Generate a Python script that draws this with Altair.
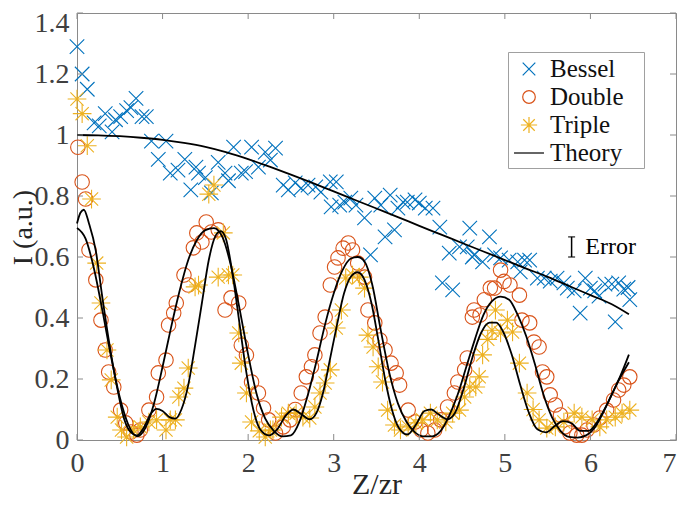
import altair as alt
import pandas as pd

# ---------------- data ----------------
bessel_x = [0.00, 0.06, 0.12, 0.20, 0.26, 0.33, 0.41, 0.45, 0.51, 0.58, 0.63, 0.69, 0.76, 0.81,
            0.87, 0.95, 1.04, 1.09, 1.18, 1.26, 1.33, 1.39, 1.42, 1.50, 1.57, 1.65, 1.73, 1.77,
            1.83, 1.92, 1.97, 2.04, 2.12, 2.20, 2.26, 2.32, 2.41, 2.47, 2.55, 2.62, 2.70, 2.79,
            2.85, 2.96, 2.97, 3.03, 3.07, 3.13, 3.20, 3.26, 3.36, 3.43, 3.48, 3.55, 3.60, 3.66,
            3.71, 3.75, 3.81, 3.86, 3.95, 4.00, 4.07, 4.16, 4.24, 4.27, 4.35, 4.39, 4.47, 4.56,
            4.59, 4.62, 4.64, 4.74, 4.82, 4.88, 4.95, 5.05, 5.15, 5.18, 5.23, 5.29, 5.38, 5.46,
            5.53, 5.61, 5.69, 5.73, 5.81, 5.88, 5.94, 6.00, 6.05, 6.10, 6.17, 6.25, 6.29, 6.33,
            6.39, 6.44, 6.46]
bessel_y = [1.29, 1.20, 1.15, 1.04, 1.03, 1.07, 1.01, 1.05, 1.06, 1.08, 1.09, 1.12, 1.06, 1.06,
            0.98, 0.92, 0.98, 0.875, 0.885, 0.92, 0.82, 0.895, 0.875, 0.86, 0.81, 0.91, 0.875, 0.85,
            0.96, 0.875, 0.88, 0.96, 0.895, 0.944, 0.918, 0.957, 0.836, 0.82, 0.843, 0.826, 0.836, 0.83,
            0.813, 0.846, 0.764, 0.846, 0.77, 0.78, 0.793, 0.77, 0.728, 0.607, 0.793, 0.77, 0.666, 0.803,
            0.689, 0.76, 0.78, 0.78, 0.787, 0.777, 0.76, 0.76, 0.698, 0.515, 0.613, 0.492, 0.633, 0.633,
            0.695, 0.60, 0.607, 0.584, 0.666, 0.607, 0.597, 0.590, 0.584, 0.551, 0.590, 0.590, 0.531, 0.531,
            0.521, 0.531, 0.515, 0.498, 0.489, 0.416, 0.531, 0.498, 0.489, 0.472, 0.511, 0.511, 0.387, 0.515,
            0.495, 0.50, 0.46]

double_x = [0.01, 0.06, 0.10, 0.14, 0.22, 0.28, 0.33, 0.37, 0.43, 0.51, 0.57, 0.63, 0.70, 0.74,
            0.84, 0.93, 0.95, 1.04, 1.07, 1.13, 1.16, 1.25, 1.30, 1.36, 1.40, 1.46, 1.51, 1.57,
            1.65, 1.73, 1.80, 1.89, 1.92, 1.98, 2.04, 2.12, 2.18, 2.24, 2.32, 2.41, 2.49, 2.55,
            2.62, 2.68, 2.74, 2.78, 2.84, 2.90, 2.96, 3.01, 3.05, 3.11, 3.17, 3.22, 3.28, 3.36,
            3.40, 3.48, 3.54, 3.60, 3.67, 3.73, 3.77, 3.87, 3.95, 4.02, 4.10, 4.18, 4.25, 4.33,
            4.41, 4.45, 4.53, 4.56, 4.62, 4.64, 4.71, 4.76, 4.83, 4.88, 4.95, 4.99, 5.06, 5.17,
            5.20, 5.29, 5.34, 5.40, 5.44, 5.49, 5.53, 5.59, 5.65, 5.70, 5.76, 5.84, 5.90, 5.96,
            6.04, 6.11, 6.19, 6.27, 6.33, 6.39, 6.46]
double_y = [0.96, 0.846, 0.79, 0.623, 0.525, 0.393, 0.295, 0.223, 0.174, 0.098, 0.056, 0.026, 0.016, 0.033,
            0.098, 0.141, 0.22, 0.262, 0.377, 0.416, 0.449, 0.541, 0.508, 0.63, 0.679, 0.649, 0.715, 0.682,
            0.689, 0.426, 0.466, 0.449, 0.311, 0.279, 0.19, 0.154, 0.105, 0.066, 0.023, 0.043, 0.066, 0.10,
            0.154, 0.207, 0.24, 0.279, 0.351, 0.403, 0.508, 0.567, 0.597, 0.629, 0.646, 0.623, 0.58, 0.534,
            0.426, 0.384, 0.328, 0.295, 0.252, 0.22, 0.18, 0.098, 0.059, 0.033, 0.023, 0.033, 0.066, 0.108,
            0.154, 0.19, 0.23, 0.269, 0.403, 0.426, 0.41, 0.46, 0.498, 0.498, 0.557, 0.52, 0.508, 0.475,
            0.393, 0.384, 0.321, 0.305, 0.223, 0.207, 0.148, 0.115, 0.082, 0.043, 0.023, 0.016, 0.016, 0.033,
            0.049, 0.072, 0.098, 0.131, 0.164, 0.18, 0.207]

triple_x = [0.00, 0.06, 0.12, 0.17, 0.23, 0.28, 0.35, 0.40, 0.47, 0.52, 0.58, 0.66, 0.74, 0.84,
            0.93, 1.04, 1.09, 1.15, 1.19, 1.25, 1.30, 1.38, 1.42, 1.54, 1.60, 1.65, 1.71, 1.77,
            1.82, 1.89, 1.92, 1.98, 2.04, 2.13, 2.20, 2.26, 2.29, 2.39, 2.47, 2.56, 2.64, 2.72,
            2.78, 2.84, 2.90, 2.96, 3.03, 3.09, 3.14, 3.22, 3.30, 3.36, 3.40, 3.46, 3.52, 3.57,
            3.63, 3.71, 3.78, 3.87, 3.96, 4.04, 4.13, 4.21, 4.31, 4.39, 4.47, 4.53, 4.59, 4.66,
            4.70, 4.74, 4.80, 4.85, 4.89, 4.95, 5.03, 5.09, 5.17, 5.26, 5.33, 5.40, 5.49, 5.59,
            5.69, 5.81, 5.90, 6.02, 6.11, 6.19, 6.29, 6.37, 6.46]
triple_y = [1.118, 1.07, 0.965, 0.79, 0.58, 0.449, 0.295, 0.197, 0.075, 0.033, 0.01, 0.033, 0.043, 0.059,
            0.066, 0.033, 0.066, 0.066, 0.141, 0.17, 0.236, 0.502, 0.508, 0.806, 0.836, 0.534, 0.679, 0.541,
            0.541, 0.351, 0.252, 0.154, 0.059, 0.03, 0.01, 0.033, 0.033, 0.075, 0.088, 0.088, 0.075, 0.072,
            0.108, 0.154, 0.187, 0.23, 0.367, 0.426, 0.531, 0.541, 0.534, 0.498, 0.344, 0.305, 0.24, 0.19,
            0.098, 0.049, 0.033, 0.043, 0.056, 0.066, 0.088, 0.066, 0.059, 0.088, 0.098, 0.141, 0.174, 0.174,
            0.207, 0.279, 0.33, 0.36, 0.426, 0.351, 0.393, 0.354, 0.252, 0.154, 0.10, 0.066, 0.039, 0.043,
            0.059, 0.088, 0.075, 0.066, 0.043, 0.066, 0.075, 0.088, 0.098]

theory_bessel_x = [0, 0.25, 0.5, 0.75, 1, 1.25, 1.5, 1.75, 2, 2.25, 2.5, 2.75, 3, 3.25, 3.5,
                   3.75, 4, 4.25, 4.5, 4.75, 5, 5.25, 5.5, 5.75, 6, 6.25, 6.45]
theory_bessel_y = [1.0, 0.999, 0.996, 0.991, 0.984, 0.974, 0.961, 0.943, 0.921, 0.896, 0.870, 0.843,
                   0.815, 0.787, 0.759, 0.731, 0.702, 0.674, 0.646, 0.618, 0.590, 0.562, 0.535, 0.505,
                   0.475, 0.445, 0.412]

theory_double_x = [0, 0.1, 0.2, 0.3, 0.4, 0.5, 0.6, 0.7, 0.8, 0.9, 1.0, 1.1, 1.2, 1.3, 1.4, 1.5, 1.6,
                   1.7, 1.8, 1.9, 2.0, 2.1, 2.2, 2.3, 2.4, 2.5, 2.6, 2.7, 2.8, 2.9, 3.0, 3.1, 3.2, 3.28,
                   3.36, 3.45, 3.55, 3.65, 3.75, 3.85, 3.95, 4.05, 4.15, 4.25, 4.35, 4.45, 4.55, 4.65,
                   4.75, 4.85, 4.95, 5.05, 5.15, 5.25, 5.35, 5.45, 5.55, 5.65, 5.75, 5.85, 5.95, 6.05,
                   6.15, 6.25, 6.35, 6.45]
theory_double_y = [0.695, 0.66, 0.56, 0.42, 0.27, 0.14, 0.05, 0.012, 0.04, 0.12, 0.24, 0.37, 0.49, 0.59,
                   0.655, 0.688, 0.695, 0.665, 0.57, 0.43, 0.28, 0.15, 0.07, 0.03, 0.012, 0.015, 0.06,
                   0.15, 0.26, 0.38, 0.48, 0.555, 0.595, 0.60, 0.585, 0.51, 0.36, 0.22, 0.12, 0.06, 0.025,
                   0.012, 0.012, 0.03, 0.08, 0.15, 0.24, 0.33, 0.41, 0.455, 0.47, 0.46, 0.41, 0.34, 0.25,
                   0.15, 0.075, 0.03, 0.01, 0.008, 0.015, 0.04, 0.09, 0.15, 0.21, 0.28]

theory_triple_x = [0, 0.04, 0.08, 0.14, 0.22, 0.29, 0.37, 0.47, 0.55, 0.63, 0.7, 0.78, 0.86, 0.93, 1.0,
                   1.08, 1.15, 1.22, 1.3, 1.38, 1.46, 1.54, 1.62, 1.68, 1.74, 1.82, 1.9, 1.98, 2.06,
                   2.14, 2.24, 2.34, 2.44, 2.53, 2.62, 2.72, 2.8, 2.88, 2.96, 3.04, 3.12, 3.2, 3.28,
                   3.36, 3.44, 3.52, 3.6, 3.68, 3.76, 3.86, 3.96, 4.06, 4.14, 4.22, 4.33, 4.42, 4.52,
                   4.62, 4.72, 4.82, 4.9, 4.98, 5.08, 5.18, 5.28, 5.38, 5.48, 5.58, 5.68, 5.78, 5.88,
                   5.98, 6.08, 6.2, 6.32, 6.45]
theory_triple_y = [0.71, 0.745, 0.755, 0.71, 0.62, 0.48, 0.33, 0.17, 0.07, 0.025, 0.015, 0.04, 0.085,
                   0.102, 0.095, 0.075, 0.07, 0.1, 0.18, 0.31, 0.45, 0.59, 0.67, 0.685, 0.66, 0.54, 0.38,
                   0.22, 0.1, 0.035, 0.015, 0.035, 0.08, 0.1, 0.085, 0.068, 0.09, 0.16, 0.27, 0.38, 0.48,
                   0.535, 0.55, 0.525, 0.45, 0.33, 0.2, 0.1, 0.04, 0.018, 0.05, 0.095, 0.1, 0.085, 0.068,
                   0.09, 0.17, 0.27, 0.35, 0.385, 0.385, 0.355, 0.28, 0.18, 0.09, 0.035, 0.025, 0.045,
                   0.062, 0.055, 0.03, 0.03, 0.06, 0.12, 0.19, 0.255]

error_x = [5.78]
error_lo = [0.600]
error_hi = [0.666]
error_label = ["Error"]
error_label_x = [5.94]
error_label_y = [0.633]

series_names = ["Bessel", "Double", "Triple", "Theory"]
x_ticks = [0, 1, 2, 3, 4, 5, 6, 7]
y_ticks = [0, 0.2, 0.4, 0.6, 0.8, 1.0, 1.2, 1.4]

# ---------------- styling ----------------
W, H = 599, 427
colors = ["#0072BD", "#D95319", "#EDB120", "#000000"]
x_path = "M-0.45,-0.45L0.45,0.45M-0.45,0.45L0.45,-0.45"
o_path = "M0.45,0A0.45,0.45,0,1,1,-0.45,0A0.45,0.45,0,1,1,0.45,0Z"
star_path = ("M-0.58,0L0.58,0M0,-0.58L0,0.58M-0.41,-0.41L0.41,0.41M-0.41,0.41L0.41,-0.41")
line_path = "M-1.07,0L1.07,0"
shapes = [x_path, o_path, star_path, line_path]
serif = "Liberation Serif"
box_col = "#8a8a8a"

pts = pd.concat([
    pd.DataFrame({"x": bessel_x, "y": bessel_y, "series": "Bessel"}),
    pd.DataFrame({"x": double_x, "y": double_y, "series": "Double"}),
    pd.DataFrame({"x": triple_x, "y": triple_y, "series": "Triple"}),
], ignore_index=True)

theory = pd.concat([
    pd.DataFrame({"x": theory_bessel_x, "y": theory_bessel_y, "curve": "tb"}),
    pd.DataFrame({"x": theory_double_x, "y": theory_double_y, "curve": "td"}),
    pd.DataFrame({"x": theory_triple_x, "y": theory_triple_y, "curve": "tt"}),
], ignore_index=True)
theory["series"] = "Theory"

xs = alt.Scale(domain=[0, 7], nice=False, zero=False)
ys = alt.Scale(domain=[0, 1.4], nice=False, zero=False)
color_scale = alt.Scale(domain=series_names, range=colors)
shape_scale = alt.Scale(domain=series_names, range=shapes)

legend = alt.Legend(
    title=None, orient="none", legendX=431, legendY=39,
    labelFont=serif, labelFontSize=25, labelColor="#111111", labelOffset=6,
    labelExpr="datum.label + '\u2800'",
    symbolSize=784, symbolStrokeWidth=1.2, symbolFillColor="transparent", symbolOffset=4,
    strokeColor="#a0a0a0", fillColor="#ffffff", padding=2, rowPadding=0,
)

x_axis = alt.Axis(title="Z/zr", values=x_ticks, labelPadding=9, titleY=53, labelFlush=False,
                  titleBaseline="alphabetic", labelExpr="format(datum.value, '~g')",
                  labelAlign={"condition": {"test": "datum.value > 6.5", "value": "right"},
                              "value": "center"})
y_axis = alt.Axis(title="I (a.u.)", values=y_ticks, labelPadding=8, titleX=-54, titleY=214,
                  titleAngle=270, titleAlign="center", titleBaseline="middle", labelFlush=False,
                  titleFontSize=28,
                  labelOffset={"condition": {"test": "datum.value > 1.3", "value": 10}, "value": 0},
                  labelExpr="format(datum.value, '~g')")

points = alt.Chart(pts).mark_point(filled=False, size=1037, strokeWidth=1.1, opacity=1).encode(
    x=alt.X("x:Q", scale=xs, axis=x_axis),
    y=alt.Y("y:Q", scale=ys, axis=y_axis),
    color=alt.Color("series:N", scale=color_scale, legend=legend),
    shape=alt.Shape("series:N", scale=shape_scale, legend=legend),
)

lines = alt.Chart(theory).mark_line(strokeWidth=1.8, interpolate="monotone").encode(
    x=alt.X("x:Q", scale=xs, axis=x_axis),
    y=alt.Y("y:Q", scale=ys, axis=y_axis),
    color=alt.Color("series:N", scale=color_scale, legend=legend),
    detail="curve:N",
)

# inward tick marks (MATLAB style box)
xt = pd.DataFrame({"t": x_ticks})
yt = pd.DataFrame({"t": y_ticks})
tick_mark = dict(color=box_col, strokeWidth=1)
xt_bot = alt.Chart(xt).mark_rule(**tick_mark).encode(
    x=alt.X("t:Q", scale=xs, axis=x_axis), y=alt.value(H), y2=alt.value(H - 6))
xt_top = alt.Chart(xt).mark_rule(**tick_mark).encode(
    x=alt.X("t:Q", scale=xs, axis=x_axis), y=alt.value(0), y2=alt.value(6))
yt_left = alt.Chart(yt).mark_rule(**tick_mark).encode(
    y=alt.Y("t:Q", scale=ys, axis=y_axis), x=alt.value(0), x2=alt.value(6))
yt_right = alt.Chart(yt).mark_rule(**tick_mark).encode(
    y=alt.Y("t:Q", scale=ys, axis=y_axis), x=alt.value(W), x2=alt.value(W - 6))

err = pd.DataFrame({"ex": error_x, "lo": error_lo, "hi": error_hi})
err_rule = alt.Chart(err).mark_rule(color="#000000", strokeWidth=1.5).encode(
    x=alt.X("ex:Q", scale=xs, axis=x_axis),
    y=alt.Y("lo:Q", scale=ys, axis=y_axis), y2="hi:Q")
err_caps = alt.Chart(pd.DataFrame({"ex": error_x * 2, "ey": error_lo + error_hi})).mark_tick(
    color="#000000", orient="horizontal", size=7, thickness=1.5).encode(
    x=alt.X("ex:Q", scale=xs, axis=x_axis), y=alt.Y("ey:Q", scale=ys, axis=y_axis))
err_text = alt.Chart(pd.DataFrame({"tx": error_label_x, "ty": error_label_y, "label": error_label})).mark_text(
    align="left", baseline="middle", font=serif, fontSize=24, color="#000000").encode(
    x=alt.X("tx:Q", scale=xs, axis=x_axis), y=alt.Y("ty:Q", scale=ys, axis=y_axis), text="label:N")

chart = alt.layer(points, lines, xt_bot, xt_top, yt_left, yt_right, err_rule, err_caps, err_text).properties(
    width=W, height=H,
    autosize=alt.AutoSizeParams(type="none"),
    padding={"left": 69, "top": 5, "right": 1, "bottom": 58},
).configure_view(stroke=box_col, strokeWidth=1).configure_axis(
    domain=False, ticks=False, grid=False,
    labelFont=serif, labelFontSize=28, labelColor="#404040",
    titleFont=serif, titleFontSize=30, titleFontWeight="normal", titleColor="#262626",
)

chart.save("out.html", embed_options={"renderer": "svg", "actions": False})
